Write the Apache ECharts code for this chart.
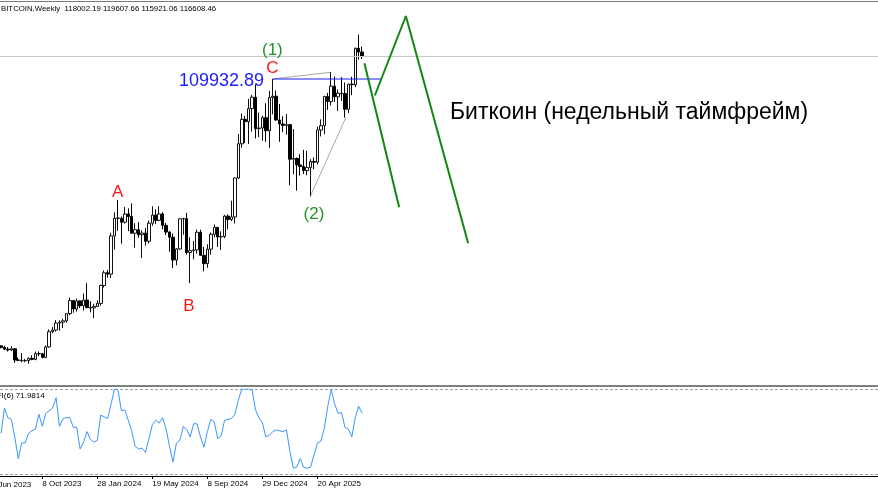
<!DOCTYPE html>
<html><head><meta charset="utf-8">
<script src="https://cdn.jsdelivr.net/npm/echarts@6/dist/echarts.min.js"></script>
<style>html,body{margin:0;padding:0;background:#fff;}#c{width:878px;height:494px;}</style>
</head><body><div id="c"></div>
<script>
// Weekly bars (week start, Sunday)
const weeks = ['2023-07-16','2023-07-23','2023-07-30','2023-08-06','2023-08-13','2023-08-20','2023-08-27','2023-09-03','2023-09-10','2023-09-17',
'2023-09-24','2023-10-01','2023-10-08','2023-10-15','2023-10-22','2023-10-29','2023-11-05','2023-11-12','2023-11-19','2023-11-26',
'2023-12-03','2023-12-10','2023-12-17','2023-12-24','2023-12-31','2024-01-07','2024-01-14','2024-01-21','2024-01-28','2024-02-04',
'2024-02-11','2024-02-18','2024-02-25','2024-03-03','2024-03-10','2024-03-17','2024-03-24','2024-03-31','2024-04-07','2024-04-14',
'2024-04-21','2024-04-28','2024-05-05','2024-05-12','2024-05-19','2024-05-26','2024-06-02','2024-06-09','2024-06-16','2024-06-23',
'2024-06-30','2024-07-07','2024-07-14','2024-07-21','2024-07-28','2024-08-04','2024-08-11','2024-08-18','2024-08-25','2024-09-01',
'2024-09-08','2024-09-15','2024-09-22','2024-09-29','2024-10-06','2024-10-13','2024-10-20','2024-10-27','2024-11-03','2024-11-10',
'2024-11-17','2024-11-24','2024-12-01','2024-12-08','2024-12-15','2024-12-22','2024-12-29','2025-01-05','2025-01-12','2025-01-19',
'2025-01-26','2025-02-02','2025-02-09','2025-02-16','2025-02-23','2025-03-02','2025-03-09','2025-03-16','2025-03-23','2025-03-30',
'2025-04-06','2025-04-13','2025-04-20','2025-04-27','2025-05-04','2025-05-11','2025-05-18','2025-05-25','2025-06-01','2025-06-08',
'2025-06-15','2025-06-22','2025-06-29','2025-07-06','2025-07-13','2025-07-20'];

const opens = [30290,29800,29300,29050,29400,26050,26000,25850,25900,26550,
26250,27950,27900,26850,29950,34500,35000,37100,37350,37750,
39900,43800,41300,43700,42250,43950,41700,41600,42050,42950,
48300,52100,51700,63100,68400,68350,67200,69650,68900,63900,
64950,63450,63950,61500,66900,69300,67750,69650,66250,64250,
62700,55900,59200,68200,68250,58150,58700,58900,64200,57300,
54850,59150,63600,65650,62800,62900,69000,68000,68750,80400,
90600,97900,97200,101100,104500,95100,95300,98400,94500,104400,
104800,97700,96500,96100,96300,86000,86200,84300,83800,82600,
83500,85300,85100,94700,96000,104700,103200,107800,104600,105700,
105600,100900,108400,108200,119100,118002.19];
const highs = [30440,30300,29900,30200,29650,26800,28150,26400,26850,27450,
28600,28600,28100,30400,35200,35900,37950,37980,38400,40000,
44700,44000,44400,43800,45900,49000,43600,42850,43850,48550,
52800,52950,64000,70150,73800,68900,71750,71300,72800,66900,
67200,64750,65500,67700,71950,71000,71950,70200,66950,64500,
63800,59500,68400,68500,70000,62700,61600,65000,64950,59800,
60600,64100,66500,65650,64500,69400,69500,73600,80500,93500,
99600,98900,104000,105200,108300,99900,99000,102700,106400,109932.89,
106500,102500,98800,99500,96500,95000,86500,87500,88800,88500,
86000,86500,95700,97900,104900,105800,111960,110700,106800,110500,
108900,108500,110600,119300,123200,119607.66];
const lows = [29500,29000,28600,28750,25200,25800,25400,25400,24900,26000,
26000,27200,26550,26600,29700,34050,34550,34800,35600,37150,
39400,40200,40500,41550,40800,41500,40300,38550,41850,42250,
47700,50600,50500,59000,64600,60800,66800,64500,66800,59600,
62500,56500,60200,60800,66100,66600,67500,65100,63400,58400,
53500,54300,58950,63450,57500,49000,56100,57800,57200,52550,
53600,57500,62700,59800,58900,62400,65100,67500,66800,80100,
89400,90800,90500,94200,92200,92600,91500,91200,89300,99400,
97500,91200,94100,93300,78200,81500,76600,81100,81600,81200,
74900,83000,84400,92800,93400,100700,102000,103100,100400,103400,
98400,99800,105100,107500,115700,115921.06];
const closes = [29800,29300,29050,29400,26050,26000,25850,25900,26550,26250,
27950,27900,26850,29950,34500,35000,37100,37350,37750,39900,
43800,41300,43700,42250,43950,41700,41600,42050,42950,48300,
52100,51700,63100,68400,68350,67200,69650,68900,63900,64950,
63450,63950,61500,66900,69300,67750,69650,66250,64250,62700,
55900,59200,68200,68250,58150,58700,58900,64200,57300,54850,
59150,63600,65650,62800,62900,69000,68000,68750,80400,90600,
97900,97200,101100,104500,95100,95300,98400,94500,104400,104800,
97700,96500,96100,96300,86000,86200,84300,83800,82600,83500,
85300,85100,94700,96000,104700,103200,107800,104600,105700,105600,
100900,108400,108200,119100,118002.19,116608.46];

// MFI(6) indicator values
const mfi = [49,78,67,65,45,20,38,38,49,52,
54,71,57,72,75,78,90,57,66,67,
67,56,56,31,39,51,42,39,41,70,
68,66,83,100,99,75,76,64,52,34,
31,32,27,43,59,64,61,67,54,34,
16,38,41,57,53,45,60,60,45,33,
51,65,62,43,46,64,65,66,71,87,
100,100,100,99,76,67,61,45,47,51,
53,52,51,53,28,9,10,20,10,9,
10,24,38,40,55,80,99,83,72,73,
56,54,45,67,80,71.98];

// Time-axis tick labels (bar index relative to first week)
const tickBars = [-4,12,28,44,60,76,92];
const tickLabels = ['18 Jun 2023','8 Oct 2023','28 Jan 2024','19 May 2024','8 Sep 2024','29 Dec 2024','20 Apr 2025'];

// Analyst drawings (bar index, price)
const forecastShort = [[105.66,114620],[115.77,71630]];
const forecastLong = [[108.7,105010],[117.72,128740],[135.83,60890]];
const levelLine = [[79,109932.89],[110.7,109932.89]];
const topLine = [[79,109932.89],[96.1,111960]];
const lowLine = [[90,75100],[100.3,98500]];
const bidPrice = 116608.46;

// Text annotations
const redLabels = [['A',33.9,76200],['B',54.6,42200],['C',78.9,113070]];
const greenLabels = [['(1)',78.9,118440],['(2)',91.0,69640]];
const levelLabel = ['109932.89',64.1,109340];
const titleLabel = ['Биткоин (недельный таймфрейм)',182.6,99780];
const headerText = 'BITCOIN,Weekly  118002.19 119607.66 115921.06 116608.46';
const indicatorText = 'MFI(6) 71.9814';

const X_MIN = -0.3, X_MAX = 255;
const chart = echarts.init(document.getElementById('c'), null, {renderer:'canvas'});
const FONT = 'Liberation Sans, Arial, sans-serif';

function lineSeries(data, color, width, z){
  return {type:'line', xAxisIndex:0, yAxisIndex:0, data:data, symbol:'none', silent:true,
    lineStyle:{color:color, width:width}, z:z||3, animation:false};
}
function labelSeries(items, color, size){
  return {type:'scatter', xAxisIndex:0, yAxisIndex:0, symbolSize:1, silent:true, z:6, animation:false,
    itemStyle:{opacity:0},
    data: items.map(it=>({value:[it[1],it[2]], name:it[0]})),
    label:{show:true, position:'inside', formatter:p=>p.name, color:color, fontSize:size, fontFamily:FONT, opacity:1}};
}

const option = {
  animation:false,
  backgroundColor:'#ffffff',
  grid:[
    {left:0, right:0, top:4, height:381, containLabel:false},
    {left:0, right:0, top:389, height:87, containLabel:false}
  ],
  xAxis:[
    {type:'value', gridIndex:0, min:X_MIN, max:X_MAX, show:false},
    {type:'value', gridIndex:1, min:X_MIN, max:X_MAX, splitLine:{show:false},
     axisLine:{show:true, onZero:false, lineStyle:{color:'#000', width:1}},
     axisTick:{show:true, length:3, customValues:tickBars, lineStyle:{color:'#000'}},
     axisLabel:{show:true, customValues:tickBars, margin:4, fontSize:8, color:'#000', fontFamily:FONT, align:'left',
       formatter:v=>{const k=tickBars.indexOf(Math.round(v)); return k>=0?tickLabels[k]:'';}}}
  ],
  yAxis:[
    {type:'value', gridIndex:0, min:18600, max:132320, show:false},
    {type:'value', gridIndex:1, min:0, max:100, show:false}
  ],
  series:[
    {type:'candlestick', xAxisIndex:0, yAxisIndex:0, z:4,
     data: weeks.map((w,i)=>[i, opens[i], closes[i], lows[i], highs[i]]),
     encode:{x:0, y:[1,2,3,4]},
     barWidth:3,
     itemStyle:{color:'#ffffff', color0:'#000000', borderColor:'#111111', borderColor0:'#000000', borderWidth:1},
     markLine:{silent:true, symbol:'none', label:{show:false}, animation:false,
       lineStyle:{color:'#c8c8c8', type:'solid', width:1}, data:[{yAxis:bidPrice}]}},
    lineSeries(topLine,'#a8a8a8',1,3),
    lineSeries(lowLine,'#a8a8a8',1,3),
    lineSeries(levelLine,'#1a1aff',1,5),
    lineSeries(forecastShort,'#118811',2,5),
    lineSeries(forecastLong,'#118811',2,5),
    labelSeries(redLabels,'#ff1a1a',17),
    labelSeries(greenLabels,'#22922a',17),
    labelSeries([levelLabel],'#1c1cff',18),
    labelSeries([titleLabel],'#000000',23),
    {type:'line', xAxisIndex:1, yAxisIndex:1, data: mfi.map((v,i)=>[i,v]), symbol:'none', silent:true,
     lineStyle:{color:'#3896ff', width:1}, z:3}
  ]
};
chart.setOption(option);
// partially visible first date label (before first bar)
const px0 = chart.convertToPixel({xAxisIndex:1}, tickBars[0]);
chart.setOption({graphic:[
  {type:'line', shape:{x1:0,y1:1.5,x2:878,y2:1.5}, style:{stroke:'#7a7a7a', lineWidth:1}, silent:true},
  {type:'line', shape:{x1:0,y1:386,x2:878,y2:386}, style:{stroke:'#808080', lineWidth:2}, silent:true},
  {type:'line', shape:{x1:0,y1:389.5,x2:878,y2:389.5}, style:{stroke:'#a0a0a0', lineWidth:1, lineDash:[3,2]}, silent:true},
  {type:'line', shape:{x1:0,y1:474.5,x2:878,y2:474.5}, style:{stroke:'#a0a0a0', lineWidth:1, lineDash:[3,2]}, silent:true},
  {type:'text', x:1, y:9, style:{text:headerText, fill:'#000', font:'7.8px '+FONT, textVerticalAlign:'middle'}, silent:true},
  {type:'text', x:-10, y:396, style:{text:indicatorText, fill:'#000', font:'8px '+FONT, textVerticalAlign:'middle'}, silent:true},
  {type:'text', x:px0, y:485, style:{text:tickLabels[0], fill:'#000', font:'8px '+FONT, textVerticalAlign:'middle'}, silent:true}
]});
</script></body></html>
